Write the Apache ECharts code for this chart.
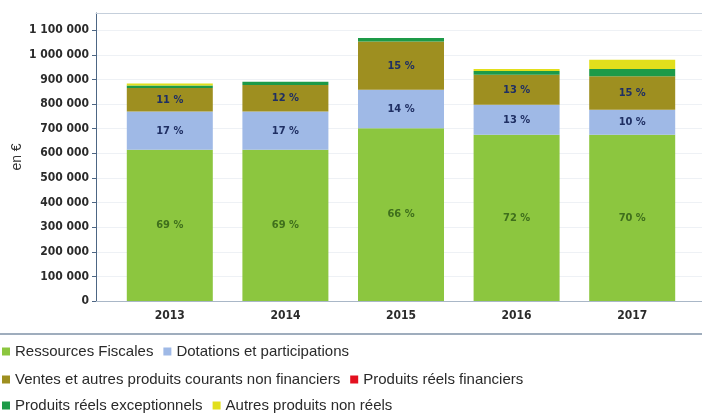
<!DOCTYPE html>
<html>
<head>
<meta charset="utf-8">
<script src="https://cdn.jsdelivr.net/npm/echarts@6/dist/echarts.min.js"></script>
<style>
  html, body { margin: 0; padding: 0; background: #fff; }
  #chart { width: 702px; height: 415px; }
</style>
</head>
<body>
<div id="chart"></div>
<script>
// years on the x axis
const years = ['2013', '2014', '2015', '2016', '2017']

// amounts in euros
const ressourcesFiscales = [614000, 614000, 702000, 675000, 675000]
const dotations = [156000, 156000, 156000, 122000, 102000]
const ventes = [95000, 108000, 196000, 122000, 136000]
const produitsFinanciers = [0, 0, 0, 0, 0]
const produitsExceptionnels = [10000, 13000, 14000, 15000, 30000]
const autresNonReels = [9000, 0, 0, 8000, 37000]

// percentage labels printed inside the bars
const pctFiscales = ['69 %', '69 %', '66 %', '72 %', '70 %']
const pctDotations = ['17 %', '17 %', '14 %', '13 %', '10 %']
const pctVentes = ['11 %', '12 %', '15 %', '13 %', '15 %']

const yTickStep = 100000
const yMax = 1170000

const labelFont = 'DejaVu Sans Condensed'

function spaced(v) {
    return String(v).replace(/\B(?=(\d{3})+(?!\d))/g, ' ')
}

function barLabel(texts, color) {
    return {
        show: true,
        position: 'inside',
        color: color,
        fontFamily: labelFont,
        fontWeight: 'bold',
        fontSize: 11,
        formatter: p => texts[p.dataIndex]
    }
}

let chart = echarts.init(document.getElementById('chart'), null, { renderer: 'canvas' })

const legendText = { fontFamily: 'Liberation Sans', fontSize: 15, color: '#2a2a2a' }
const legendBase = {
    left: 2,
    orient: 'horizontal',
    icon: 'rect',
    itemWidth: 8,
    itemHeight: 8,
    itemGap: 10,
    padding: 0,
    textStyle: legendText
}

chart.setOption({
    animation: false,
    grid: [
        { left: 112, width: 578, top: 13, bottom: 114, outerBoundsMode: 'none' },
        { left: 96, right: 0, top: 13, bottom: 114, outerBoundsMode: 'none' }
    ],
    legend: [
        Object.assign({}, legendBase, { top: 344, data: ['Ressources Fiscales', 'Dotations et participations'] }),
        Object.assign({}, legendBase, { top: 372, data: ['Ventes et autres produits courants non financiers', 'Produits réels financiers'] }),
        Object.assign({}, legendBase, { top: 398, data: ['Produits réels exceptionnels', 'Autres produits non réels'] })
    ],
    xAxis: [
        {
            type: 'category',
            gridIndex: 0,
            data: years,
            axisLine: { show: false },
            axisTick: { show: false },
            axisLabel: {
                margin: 9,
                color: '#2b2b2b',
                fontFamily: labelFont,
                fontWeight: 'bold',
                fontSize: 12
            }
        },
        {
            type: 'value',
            gridIndex: 1,
            min: 0,
            max: 1,
            axisLine: { show: true, onZero: false, lineStyle: { color: '#a9b7c7', width: 1 } },
            axisTick: { show: false },
            axisLabel: { show: false },
            splitLine: { show: false }
        },
        {
            type: 'value',
            gridIndex: 1,
            position: 'top',
            min: 0,
            max: 1,
            axisLine: { show: true, onZero: false, lineStyle: { color: '#c5cfdb', width: 1 } },
            axisTick: { show: false },
            axisLabel: { show: false },
            splitLine: { show: false }
        }
    ],
    yAxis: [
        {
            type: 'value',
            gridIndex: 0,
            min: 0,
            max: yMax,
            interval: yTickStep,
            show: false
        },
        {
            type: 'value',
            gridIndex: 1,
            min: 0,
            max: yMax,
            interval: yTickStep,
            name: 'en €',
            nameLocation: 'middle',
            nameRotate: 90,
            nameGap: 72,
            nameMoveOverlap: false,
            nameTextStyle: { fontFamily: 'Liberation Sans', fontSize: 14, color: '#333' },
            axisLine: { show: true, onZero: false, lineStyle: { color: '#4d6684', width: 1 } },
            axisTick: { show: true, length: 4, lineStyle: { color: '#4d6684' } },
            axisLabel: {
                showMaxLabel: false,
                margin: 7,
                color: '#2b2b2b',
                fontFamily: labelFont,
                fontWeight: 'bold',
                fontSize: 12,
                formatter: v => spaced(v)
            },
            splitLine: { show: true, lineStyle: { color: '#eef1f5', width: 1 } }
        }
    ],
    series: [
        {
            name: 'Ressources Fiscales', type: 'bar', stack: 'total', barWidth: 86,
            itemStyle: { color: '#8cc63f' },
            label: barLabel(pctFiscales, '#3f6f1c'),
            data: ressourcesFiscales
        },
        {
            name: 'Dotations et participations', type: 'bar', stack: 'total', barWidth: 86,
            itemStyle: { color: '#9fb9e6' },
            label: barLabel(pctDotations, '#1f2f63'),
            data: dotations
        },
        {
            name: 'Ventes et autres produits courants non financiers', type: 'bar', stack: 'total', barWidth: 86,
            itemStyle: { color: '#9e8f20' },
            label: barLabel(pctVentes, '#1f2f63'),
            data: ventes
        },
        {
            name: 'Produits réels financiers', type: 'bar', stack: 'total', barWidth: 86,
            itemStyle: { color: '#e3101f' },
            data: produitsFinanciers
        },
        {
            name: 'Produits réels exceptionnels', type: 'bar', stack: 'total', barWidth: 86,
            itemStyle: { color: '#1d9a48' },
            data: produitsExceptionnels
        },
        {
            name: 'Autres produits non réels', type: 'bar', stack: 'total', barWidth: 86,
            itemStyle: { color: '#e2df1c' },
            data: autresNonReels
        }
    ],
    graphic: [
        {
            type: 'rect',
            left: 0,
            top: 333,
            shape: { width: 702, height: 2 },
            style: { fill: '#9fadbd' }
        }
    ]
})
</script>
</body>
</html>
